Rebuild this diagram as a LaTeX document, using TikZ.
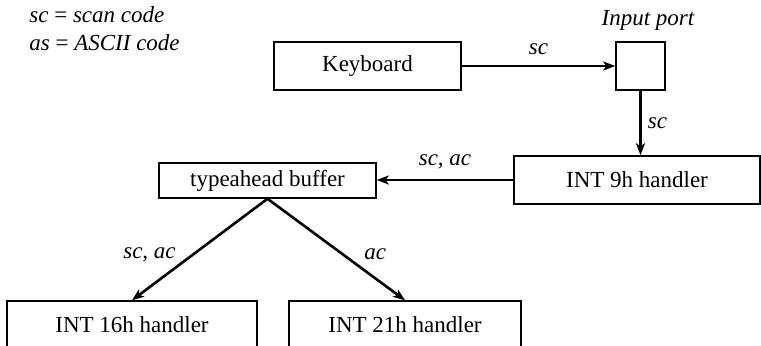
\documentclass[tikz,border=0pt]{standalone}
\usepackage{fontspec}
\setmainfont{Liberation Serif}
\usetikzlibrary{arrows.meta, positioning}
\tikzstyle{box} = [rectangle, draw=black, line width=0.75pt, fill=white, minimum height=24pt, inner sep=0pt, font=\fontsize{11.5}{13}\selectfont]
\tikzstyle{arrow} = [line width=1.3pt, -{Stealth[length=6pt, width=4.5pt, inset=1.5pt]}]
\tikzstyle{lbl} = [font=\fontsize{11.5}{13}\selectfont\itshape, inner sep=1pt]

\begin{document}
\begin{tikzpicture}[x=0.5pt, y=-0.5pt]
    \clip (0,0) rectangle (761,345);
    % legend
    \node (leg1) [lbl, anchor=west] at (27,15) {sc \textup{=} scan code};
    \node (leg2) [lbl, anchor=west] at (27,43) {as \textup{=} ASCII code};

    \node (kbd) [box, minimum width=93.5pt] at (367.5,66) {Keyboard};
    \node (port) [box, minimum width=24.5pt] at (640.5,66) {};
    \node (portlbl) [lbl] at (648,20) {Input port};
    \node (int9) [box, minimum width=123pt] at (637,180) {INT 9h handler};
    \node (buf) [box, minimum width=108.5pt, minimum height=17.5pt] at (267.5,180.5) {typeahead buffer};
    \node (int16) [box, minimum width=125pt] at (132,325) {INT 16h handler};
    \node (int21) [box, minimum width=116pt] at (405,325) {INT 21h handler};

    \draw [arrow] (kbd) -- node[lbl, above=4pt]{sc} (port);
    \draw [arrow] (port.south) -- node[lbl, right=2pt]{sc} (port.south |- int9.north);
    \draw [arrow] (int9.west) -- node[lbl, above=4pt]{sc, ac} (int9.west -| buf.east);

    % to the two handlers
    \draw [arrow] (buf.south) -- node[lbl, pos=0.55, left=7pt]{sc, ac} (int16.north);
    \draw [arrow] (buf.south) -- node[lbl, pos=0.55, right=9pt]{ac} (int21.north);
\end{tikzpicture}
\end{document}
